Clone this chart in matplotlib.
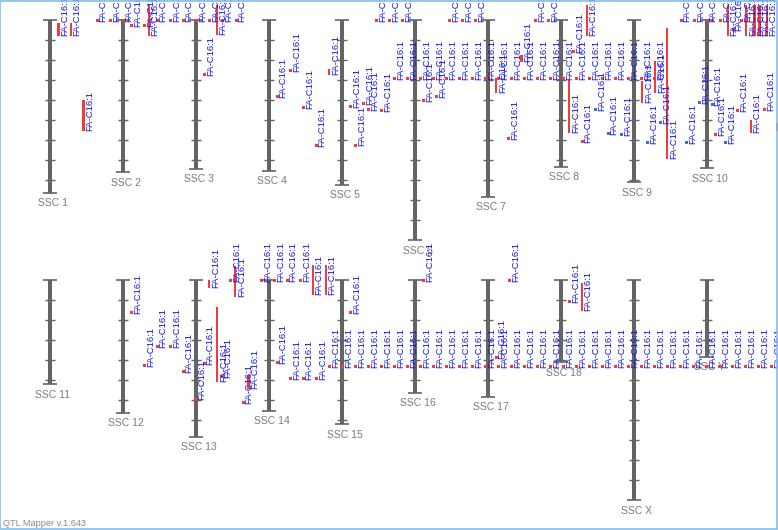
import matplotlib
matplotlib.use('Agg')
import matplotlib.pyplot as plt
from matplotlib.patches import Rectangle

plt.rcParams['font.family'] = ['Liberation Sans', 'DejaVu Sans']

# ======================================================================
# 数据: 染色体
# ======================================================================
chrom_names = ['SSC 1', 'SSC 2', 'SSC 3', 'SSC 4', 'SSC 5', 'SSC 6', 'SSC 7',
               'SSC 8', 'SSC 9', 'SSC 10', 'SSC 11', 'SSC 12', 'SSC 13',
               'SSC 14', 'SSC 15', 'SSC 16', 'SSC 17', 'SSC 18', 'SSC X', 'SSC Y']
chrom_lengths = [173, 152, 149, 151, 165, 220, 177, 147, 162, 148,
                 104, 133, 157, 131, 144, 113, 117, 82, 220, 77]

trait_name = 'FA-C16:1'

# ======================================================================
# 数据: QTL (行, 轨道x, 起点, 终点, 组)
# ======================================================================
# 上排
top_x = [58.3, 70.7, 83.3,
         96.7, 110, 122.7, 156.7, 170, 182.7, 196, 209.3, 222.3, 235.7,
         376, 389, 402, 449, 462, 475, 535, 548, 680.7, 694, 706.7, 720, 741,
         131, 144.3,
         148.7, 216.7, 586.7, 727.7, 746, 754.3, 759.3, 766.7,
         204, 276.7, 290, 303, 315.7, 350, 355, 363, 368, 381, 423, 436,
         508.5, 573.5, 732.7, 715, 737.5, 764,
         329, 496, 521.5, 642, 655, 667, 750.7, 776.7,
         394, 407, 420, 433, 446, 459, 472, 485, 498, 511, 524, 537, 550,
         563, 576, 589, 602, 615, 628, 641, 654,
         569, 581.7, 595, 607.7, 621, 647.3, 660, 686, 699, 711.7, 725]
top_start = [3.3, 3.3, 80,
             0.7, 0.7, 0.7, 0.7, 0.7, 0.7, 0.7, 0.7, 0.7, 0.7,
             0.7, 0.7, 0.7, 0.7, 0.7, 0.7, 0.7, 0.7, 0.7, 0.7, 0.7, 0.7, 0.7,
             5.3, 5.3,
             -15, -15, -15, -15, -15, -15, -15, -15,
             54.3, 76.7, 50, 87.7, 125.7, 86.7, 125, 83.3, 89.3, 90.7, 80, 76,
             118.3, 31.5, 9.3, 114.3, 90, 89.3,
             49, 57.7, 35, 61, 41, 8, 100, 103,
             58.7, 58.7, 58.7, 58.7, 58.7, 58.7, 58.7, 58.7, 58.7, 58.7, 58.7,
             58.7, 58.7, 58.7, 58.7, 58.7, 58.7, 58.7, 58.7, 58.7, 58.7,
             60, 121.7, 89.3, 113.7, 114.7, 122.7, 102, 122.7, 82.3, 84.3, 122.7]
top_end = [16, 16, 110.7,
           0.7, 0.7, 0.7, 0.7, 0.7, 0.7, 0.7, 0.7, 0.7, 0.7,
           0.7, 0.7, 0.7, 0.7, 0.7, 0.7, 0.7, 0.7, 0.7, 0.7, 0.7, 0.7, 0.7,
           5.3, 5.3,
           15.7, 15, 15.5, 15.7, 15.7, 15.7, 15.7, 15.7,
           54.3, 76.7, 50, 87.7, 125.7, 86.7, 125, 83.3, 89.3, 90.7, 80, 76,
           118.3, 31.5, 9.3, 114.3, 90, 89.3,
           55.3, 73.3, 41.5, 83, 73, 139, 113.3, 111,
           58.7, 58.7, 58.7, 58.7, 58.7, 58.7, 58.7, 58.7, 58.7, 58.7, 58.7,
           58.7, 58.7, 58.7, 58.7, 58.7, 58.7, 58.7, 58.7, 58.7, 58.7,
           112.7, 121.7, 89.3, 113.7, 114.7, 122.7, 102, 122.7, 82.3, 84.3, 122.7]
top_group = ['a'] * 85 + ['b'] * 11

# 下排
bot_x = [131, 144, 156.7, 170, 182.7, 203.7, 195, 221, 230, 242.7,
         261, 274, 286.7, 300, 276.7, 290, 302.7, 316, 350, 423, 509, 495.7, 569,
         209, 217, 235, 248.3, 312.7, 325.7, 581.7,
         329, 342, 355, 368, 381, 394, 407, 420, 433, 446, 459, 472, 485, 498,
         511, 524, 537, 550, 563, 576, 589, 602, 615, 628, 641, 654, 667, 680,
         693, 706, 719, 732, 745, 758, 771]
bot_start = [32.3, 85.3, 66.3, 66.3, 91.3, 83.3, 119, 96, 0, 122.3,
             0.3, 0.3, 0.3, 0.3, 82, 98, 98, 98, 32.7, 0.3, 0.3, 77.7, 21.7,
             0, 26.7, -14, 95, -15, -15, 3.3] + [86] * 35
bot_end = [32.3, 85.3, 66.3, 66.3, 91.3, 83.3, 119, 96, 0, 122.3,
           0.3, 0.3, 0.3, 0.3, 82, 98, 98, 98, 32.7, 0.3, 0.3, 77.7, 21.7,
           8.3, 101.7, 16.7, 109, 15, 15, 30.7] + [86] * 35
bot_group = ['a'] * len(bot_x)

# ======================================================================
# 样式
# ======================================================================
ROW_TOP = [20, 280]
COL0, COL_STEP = 50, 73
CHROM_COLOR = '#646464'
LABEL_COLOR = '#7a7a7a'
GROUP_COLOR = {'a': '#f03c3c', 'b': '#3a6fd8'}
TEXT_COLOR = '#1414f0'

fig = plt.figure(figsize=(7.78, 5.30), dpi=100)
ax = fig.add_axes([0, 0, 1, 1])
ax.set_xlim(0, 778)
ax.set_ylim(530, 0)
ax.axis('off')


# 染色体
def draw_chrom(ax, i, name, length):
    cx = COL0 + COL_STEP * (i % 10)
    top = ROW_TOP[i // 10]
    bot = top + length
    ax.add_patch(Rectangle((cx - 2.3, top), 4.6, length,
                           color=CHROM_COLOR, lw=0, zorder=1))
    for y in range(20, int(length), 20):
        ax.plot([cx - 5, cx + 5], [top + y, top + y], color=CHROM_COLOR,
                lw=1, zorder=1, solid_capstyle='butt')
    for y in (top, bot):
        ax.plot([cx - 7, cx + 7], [y, y], color=CHROM_COLOR, lw=1.2,
                zorder=1, solid_capstyle='butt')
    ax.text(cx + 3, bot + 13.5, name, color=LABEL_COLOR, fontsize=7.5,
            ha='center', va='baseline', zorder=1)


for i, (name, length) in enumerate(zip(chrom_names, chrom_lengths)):
    draw_chrom(ax, i, name, length)


# QTL 标记与标签
def draw_qtls(ax, row, xs, starts, ends, groups):
    top = ROW_TOP[row]
    for x, s, e, g in zip(xs, starts, ends, groups):
        y0, y1 = top + s, top + e
        if y1 - y0 < 3:
            mid = (y0 + y1) / 2
            y0, y1 = mid - 1.5, mid + 1.5
            w = 3
        else:
            w = 2.3
        ax.add_patch(Rectangle((x - 1, y0), w, y1 - y0,
                               color=GROUP_COLOR[g], lw=0, zorder=2))
        ax.text(x + 1.8, y1, trait_name, rotation=90, rotation_mode='anchor',
                ha='left', va='top', fontsize=6.8, color=TEXT_COLOR, zorder=3)


draw_qtls(ax, 0, top_x, top_start, top_end, top_group)
draw_qtls(ax, 1, bot_x, bot_start, bot_end, bot_group)

fig.text(3 / 778, 1 - 526 / 530, 'QTL Mapper v.1.643', color='#8a8a8a',
         fontsize=6.6, ha='left', va='baseline')
fig.patches.append(Rectangle((0.0006, 0.001), 0.9985, 0.997,
                             transform=fig.transFigure, fill=False,
                             edgecolor='#84bde6', lw=1.2))

plt.savefig('out.png', dpi=100)
